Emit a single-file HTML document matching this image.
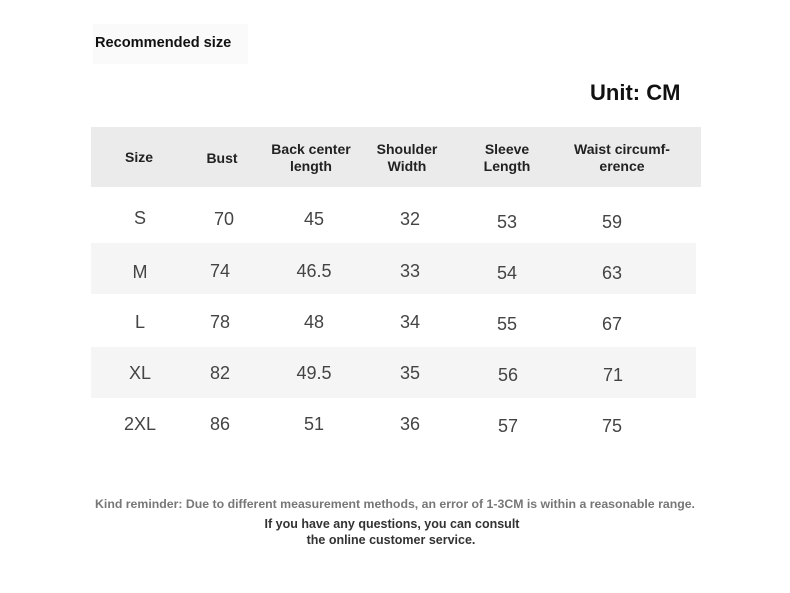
<!DOCTYPE html>
<html><head><style>
body{margin:0;width:790px;height:593px;background:#fff;position:relative;overflow:hidden;font-family:"Liberation Sans",sans-serif}
.a{position:absolute;white-space:nowrap}
.h{font-weight:bold;font-size:14px;color:#222;text-align:center;line-height:17px;transform:translateX(-50%)}
.d{font-size:18px;color:#444;transform:translateX(-50%)}
.n{font-size:12.5px;color:#777;font-weight:bold;text-align:center;transform:translateX(-50%)}
</style></head><body>
<div class="a" style="left:93px;top:24px;width:155px;height:40px;background:#fafafa"></div>
<div class="a" style="left:95px;top:35px;font-size:14.6px;font-weight:bold;color:#111">Recommended size</div>
<div class="a" style="left:590px;top:80px;font-size:22px;font-weight:bold;color:#111">Unit: CM</div>
<div class="a" style="left:91px;top:127px;width:610px;height:60px;background:#ebebeb"></div>
<div class="a" style="left:91px;top:243px;width:605px;height:51px;background:#f5f5f5"></div>
<div class="a" style="left:91px;top:347px;width:605px;height:51px;background:#f5f5f5"></div>
<div class="a h" style="left:139px;top:149px">Size</div>
<div class="a h" style="left:222px;top:150px">Bust</div>
<div class="a h" style="left:311px;top:141px">Back center<br>length</div>
<div class="a h" style="left:407px;top:141px">Shoulder<br>Width</div>
<div class="a h" style="left:507px;top:141px">Sleeve<br>Length</div>
<div class="a h" style="left:622px;top:141px">Waist circumf-<br>erence</div>

<div class="a d" style="left:140px;top:208px">S</div><div class="a d" style="left:224px;top:209px">70</div><div class="a d" style="left:314px;top:209px">45</div><div class="a d" style="left:410px;top:209px">32</div><div class="a d" style="left:507px;top:212px">53</div><div class="a d" style="left:612px;top:212px">59</div>
<div class="a d" style="left:140px;top:262px">M</div><div class="a d" style="left:220px;top:261px">74</div><div class="a d" style="left:314px;top:261px">46.5</div><div class="a d" style="left:410px;top:261px">33</div><div class="a d" style="left:507px;top:263px">54</div><div class="a d" style="left:612px;top:263px">63</div>
<div class="a d" style="left:140px;top:312px">L</div><div class="a d" style="left:220px;top:312px">78</div><div class="a d" style="left:314px;top:312px">48</div><div class="a d" style="left:410px;top:312px">34</div><div class="a d" style="left:507px;top:314px">55</div><div class="a d" style="left:612px;top:314px">67</div>
<div class="a d" style="left:140px;top:363px">XL</div><div class="a d" style="left:220px;top:363px">82</div><div class="a d" style="left:314px;top:363px">49.5</div><div class="a d" style="left:410px;top:363px">35</div><div class="a d" style="left:508px;top:365px">56</div><div class="a d" style="left:613px;top:365px">71</div>
<div class="a d" style="left:140px;top:414px">2XL</div><div class="a d" style="left:220px;top:414px">86</div><div class="a d" style="left:314px;top:414px">51</div><div class="a d" style="left:410px;top:414px">36</div><div class="a d" style="left:508px;top:416px">57</div><div class="a d" style="left:612px;top:416px">75</div>

<div class="a n" style="left:395px;top:497px;font-size:12.3px">Kind reminder: Due to different measurement methods, an error of 1-3CM is within a reasonable range.</div>
<div class="a n" style="left:392px;top:517px;color:#333">If you have any questions, you can consult</div>
<div class="a n" style="left:391px;top:533px;color:#333">the online customer service.</div>
</body></html>
